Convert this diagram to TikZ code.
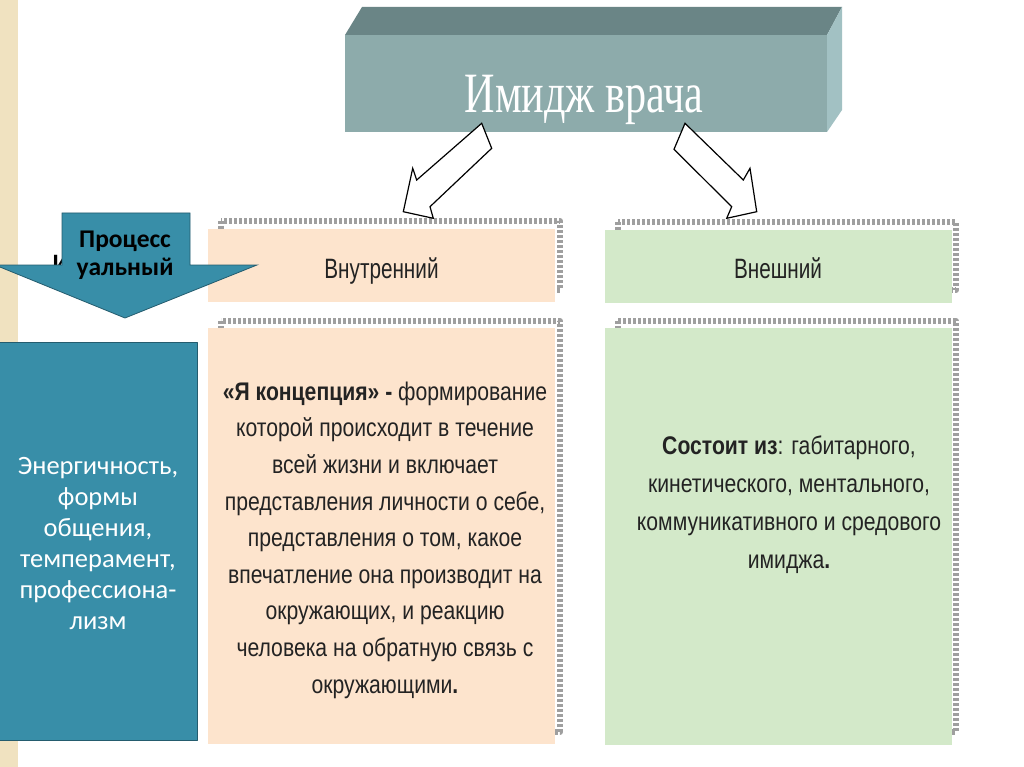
\documentclass[tikz,border=0pt]{standalone}
\usepackage{fontspec}
\setmainfont{Liberation Sans}
\newfontfamily\narrowsans[FakeStretch=0.83]{Liberation Sans}
\newfontfamily\headsans[FakeStretch=0.74]{Liberation Sans}
\newfontfamily\titleserif[FakeStretch=0.74]{Liberation Serif}
\newfontfamily\calibrisans{Carlito}
\definecolor{titlefront}{RGB}{141,171,171}
\definecolor{titletop}{RGB}{106,133,134}
\definecolor{titleside}{RGB}{162,193,195}
\definecolor{peach}{RGB}{253,228,205}
\definecolor{lightgreen}{RGB}{211,233,201}
\definecolor{tealbox}{RGB}{56,142,168}
\definecolor{tealedge}{RGB}{36,92,110}
\definecolor{stripbeige}{RGB}{240,226,192}
\definecolor{boxtext}{RGB}{35,35,35}
\tikzset{
  shadowframe/.style={draw=gray!75,line width=6pt,dash pattern=on 3pt off 2pt},
  innerbox/.style={fill=peach,inner sep=0pt},
  outerbox/.style={fill=lightgreen,inner sep=0pt},
  headtext/.style={anchor=base,text=boxtext,font=\headsans\fontsize{28}{30}\selectfont},
  bodytext/.style={text=boxtext,align=center,font=\narrowsans\fontsize{25.5}{36.6}\selectfont},
  hollowarrow/.style={draw=black,fill=white,line width=1.2pt,line join=miter}
}
\begin{document}
\begin{tikzpicture}[x=1pt,y=-1pt,line join=round]
			\useasboundingbox (0,0) rectangle (1024,767);
			\clip (0,0) rectangle (1024,767);
			\fill[white] (0,0) rectangle (1024,767);
			\fill[stripbeige] (0,0) rectangle (18,767);
			
			% title block
			\fill[titletop] (345,35)--(362,7)--(842,7)--(827,35)--cycle;
			\fill[titleside] (827,35)--(842,7)--(842,110)--(827,132)--cycle;
			\fill[titlefront] (345,35) rectangle (827,132);
			\node[anchor=base,text=white,font=\titleserif\fontsize{57}{60}\selectfont] (title) at (584,113) {Имидж врача};
			
			% shadow frames
			\draw[shadowframe] (221,221) rectangle (560,290);
			\draw[shadowframe] (618,222) rectangle (956,290);
			\draw[shadowframe] (221,321) rectangle (560,732);
			\draw[shadowframe] (618,321) rectangle (956,732);
			
			% boxes
			\node[innerbox,minimum width=347pt,minimum height=73pt] (inner) at (381.5,265.5) {};
			\node[outerbox,minimum width=347pt,minimum height=73pt] (outer) at (778.5,266.5) {};
			\node[headtext] (innerhead) at (381.5,278) {Внутренний};
			\node[headtext] (outerhead) at (778,278) {Внешний};
			\node[innerbox,minimum width=347pt,minimum height=416pt] (innerbody) at (381.5,536) {};
			\node[outerbox,minimum width=347pt,minimum height=417pt] (outerbody) at (778.5,536.5) {};
			\node[bodytext] (innertext) at (385,540) {\textbf{«Я концепция» -} формирование\\которой происходит в течение\\всей жизни и включает\\представления личности о себе,\\представления о том, какое\\впечатление она производит на\\окружающих, и реакцию\\человека на обратную связь с\\окружающими\textbf{.}};
			\node[bodytext,font=\narrowsans\fontsize{25.5}{38}\selectfont] (outertext) at (789,505) {\textbf{Состоит из}: габитарного,\\кинетического, ментального,\\коммуникативного и средового\\имиджа\textbf{.}};
			
			% left side
			\node[anchor=base west,font=\calibrisans\bfseries\fontsize{25}{27}\selectfont] (hidden) at (49,271) {И};
			\draw[tealedge,fill=tealbox,line width=0.8pt,line join=miter] (62,213)--(190,213)--(190,265)--(257,265)--(125,318)--(-5,265)--(62,265)--cycle;
			\node[align=center,font=\calibrisans\bfseries\fontsize{25.5}{28}\selectfont] (process) at (125,255) {Процесс\\уальный};
			\node[draw=tealedge,fill=tealbox,line width=1pt,minimum width=198pt,minimum height=398pt] (traits) at (98,541) {};
			\node[align=center,text=white,font=\calibrisans\fontsize{26.5}{31}\selectfont] (traitstext) at (98,543) {Энергичность,\\формы\\общения,\\темперамент,\\профессиона-\\лизм};
			
			% hollow arrows
			\draw[hollowarrow] (481.7,123.3)--(491.7,148.3)--(430,206.7)--(433.3,218.3)--(403.3,211.7)--(412.7,168.3)--(416.7,180)--cycle;
			\draw[hollowarrow] (685,123.3)--(674,149.3)--(731.7,206.7)--(726.7,218.3)--(756.7,211.7)--(750,168.3)--(743.3,180)--cycle;
			
			\end{tikzpicture}
\end{document}
